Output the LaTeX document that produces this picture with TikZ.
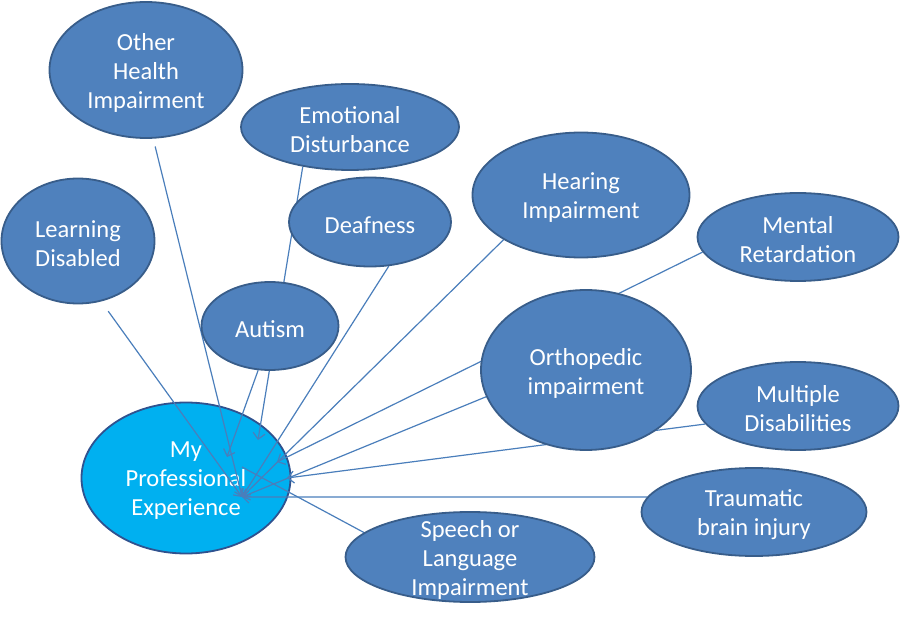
\documentclass[tikz,border=0pt]{standalone}
\usepackage{fontspec}
\setmainfont{Carlito}
\usepackage{tikz}
\usetikzlibrary{shapes.geometric, arrows.meta}
\definecolor{blobfill}{HTML}{4F81BD}
\definecolor{blobline}{HTML}{385D8A}
\definecolor{hubfill}{HTML}{00B0F0}
\definecolor{hubline}{HTML}{2F528F}
\definecolor{linkcol}{HTML}{4A7EBB}
\pgfdeclarelayer{bottom}
\pgfdeclarelayer{middle}
\pgfsetlayers{bottom,middle,main}

\begin{document}
\begin{tikzpicture}[x=1pt, y=-1pt,
  blob/.style={draw=blobline, line width=1.8pt, fill=blobfill, ellipse, inner sep=0pt},
  lbl/.style={text=white, font=\fontsize{24.5}{29}\selectfont, align=center, yshift=-3pt},
  link/.style={draw=linkcol, line width=1.2pt},
  >={Straight Barb[length=6pt, width=12pt]}]
  \useasboundingbox (0,0) rectangle (900,620);

  % centre
  \begin{pgfonlayer}{bottom}
  \node (exp) [blob, fill=hubfill, draw=hubline, minimum width=209pt, minimum height=151pt,
    label={[lbl]center:My\\Professional\\Experience}] at (186,478) {};
  \end{pgfonlayer}

  % categories
  \node (ohi) [blob, minimum width=193pt, minimum height=136pt,
    label={[lbl]center:Other\\Health\\Impairment}] at (146,70) {};
  \node (emo) [blob, minimum width=218pt, minimum height=86pt,
    label={[lbl]center:Emotional\\Disturbance}] at (350,127) {};
  \node (lrn) [blob, minimum width=153pt, minimum height=125pt,
    label={[lbl]center:Learning\\Disabled}] at (78,241) {};
  \node (dfn) [blob, minimum width=162pt, minimum height=89pt,
    label={[lbl]center:Deafness}] at (370,222) {};
  \node (hrg) [blob, minimum width=217pt, minimum height=125pt,
    label={[lbl]center:Hearing\\Impairment}] at (581,195) {};
  \node (mnt) [blob, minimum width=201pt, minimum height=88pt,
    label={[lbl]center:Mental\\Retardation}] at (798,237) {};
  \node (aut) [blob, minimum width=137pt, minimum height=88pt,
    label={[lbl]center:Autism}] at (270,326) {};
  \node (orth) [blob, minimum width=210pt, minimum height=160pt,
    label={[lbl]center:Orthopedic\\impairment}] at (586,370) {};
  \node (mult) [blob, minimum width=201pt, minimum height=88pt,
    label={[lbl]center:Multiple\\Disabilities}] at (798,406) {};
  \node (tbi) [blob, minimum width=225pt, minimum height=88pt,
    label={[lbl]center:Traumatic\\brain injury}] at (754,512) {};
  \node (spl) [blob, minimum width=249pt, minimum height=90pt,
    label={[lbl]center:Speech or\\Language\\Impairment}] at (470,557) {};

  % arrow ends inside the centre
  \coordinate (tip-main) at (242,497);
  \coordinate (tip-emo) at (258,440);
  \coordinate (tip-aut) at (227,457);
  \coordinate (tip-mnt) at (277,462);
  \coordinate (tip-mult) at (287,478);
  \coordinate (tip-spl) at (242,467);

  \begin{pgfonlayer}{middle}
  \draw [link, ->, shorten <=8pt] (ohi.-84) -- (tip-main);
  \draw [link, ->, shorten <=12pt] (lrn.-69) -- (tip-main);
  \draw [link, ->] (emo.220) -- (tip-emo);
  \draw [link, ->] (dfn.-67) -- (tip-main);
  \draw [link, ->] (hrg.210) -- (tip-main);
  \draw [link, ->] (mnt.189) -- (tip-mnt);
  \draw [link, ->] (aut.255) -- (tip-aut);
  \draw [link, ->] (orth.195) -- (tip-main);
  \draw [link, ->] (mult.191) -- (tip-mult);
  \draw [link, ->] (tbi.172) -- (tip-main);
  \draw [link] (spl.167) -- (tip-spl);
  \end{pgfonlayer}
\end{tikzpicture}
\end{document}
